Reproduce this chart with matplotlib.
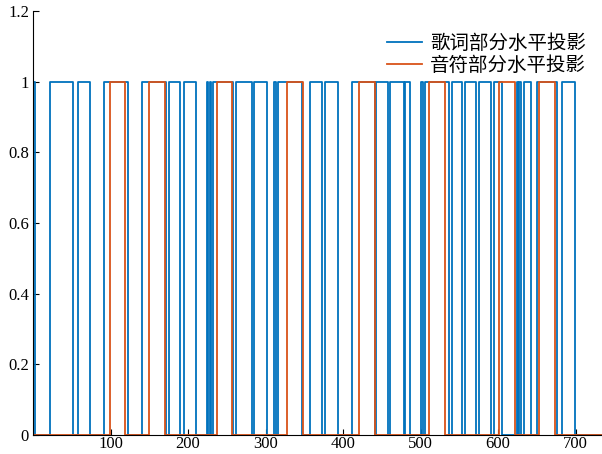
import numpy as np
import matplotlib
matplotlib.use("Agg")
import matplotlib.pyplot as plt

plt.rcParams['font.family'] = ['Liberation Serif', 'Noto Sans CJK SC']

# pulse edges (x where signal goes to 1, x where it goes back to 0)
lyric_rise = [0, 22, 58, 91, 140, 175, 195, 225, 228, 232, 262, 285, 311, 316,
              357, 377, 412, 443, 461, 480, 501, 506, 540, 557, 575, 595,
              624, 627, 633, 650, 682]
lyric_fall = [2, 52, 73, 123, 171, 190, 210, 226, 230, 258, 282, 302, 313, 347,
              373, 394, 441, 458, 478, 486, 503, 536, 554, 572, 591, 605,
              625, 629, 643, 676, 699]
note_rise = [99, 150, 237, 327, 420, 511, 601, 653]
note_fall = [118, 170, 257, 348, 441, 531, 622, 674]
x_max = 734


def step_line(rise, fall, x_end):
    xs, ys = [0], [0]
    for a, b in zip(rise, fall):
        xs += [a, a, b, b]
        ys += [0, 1, 1, 0]
    xs.append(x_end)
    ys.append(0)
    return xs, ys


fig = plt.figure(figsize=(6.02, 4.54), dpi=100)
ax = fig.add_axes([0.055, 0.042, 0.945, 0.934])

lx, ly = step_line(lyric_rise, lyric_fall, x_max)
nx, ny = step_line(note_rise, note_fall, x_max)
ax.plot(lx, ly, color='#0072BD', lw=1.3, label='歌词部分水平投影')
ax.plot(nx, ny, color='#D95319', lw=1.3, label='音符部分水平投影')

ax.set_xlim(0, x_max)
ax.set_ylim(0, 1.2)
ax.set_xticks([100, 200, 300, 400, 500, 600, 700])
ax.set_yticks([0, 0.2, 0.4, 0.6, 0.8, 1.0, 1.2])
ax.set_yticklabels(['0', '0.2', '0.4', '0.6', '0.8', '1', '1.2'])
ax.tick_params(direction='in', labelsize=12, length=4, pad=3)
ax.tick_params(axis='x', pad=1)
for s in ['top', 'right']:
    ax.spines[s].set_visible(False)

leg = ax.legend(loc='upper right', frameon=False, fontsize=14,
                handlelength=1.8, handletextpad=0.4, labelspacing=0.18,
                bbox_to_anchor=(1.003, 0.987))

fig.savefig('out.png', dpi=100)
